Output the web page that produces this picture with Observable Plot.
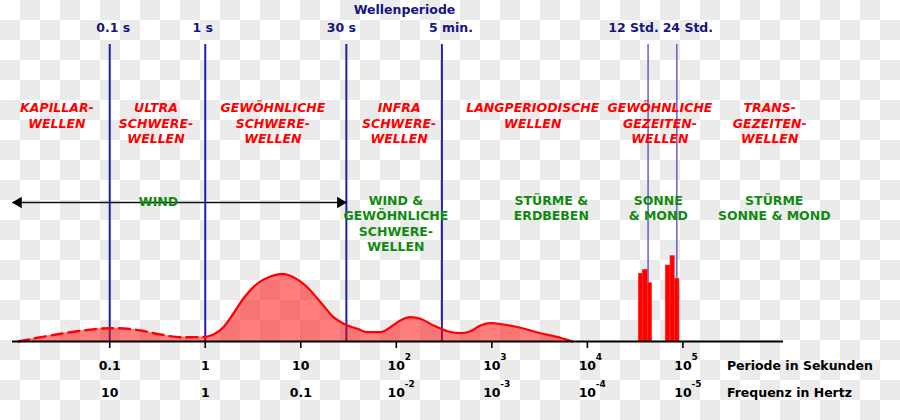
<!DOCTYPE html>
<html>
<head>
<meta charset="utf-8">
<script src="https://cdn.jsdelivr.net/npm/d3@7"></script>
<script src="https://cdn.jsdelivr.net/npm/@observablehq/plot@0.6"></script>
<style>
  html, body { margin: 0; padding: 0; }
  body {
    width: 900px; height: 420px; overflow: hidden;
    background-color: #fff;
    background-image: conic-gradient(#ebebeb 25%, #fff 0 50%, #ebebeb 0 75%, #fff 0);
    background-size: 40px 40px;
  }
</style>
</head>
<body>
<div id="chart"></div>
<script>
// ---- data ----
const tickPeriods = [0.1, 1, 10, 100, 1000, 1e4, 1e5];
const periodBase = ["0.1", "1", "10", "10", "10", "10", "10"];
const periodExp = ["", "", "", "2", "3", "4", "5"];
const freqBase = ["10", "1", "0.1", "10", "10", "10", "10"];
const freqExp = ["", "", "", "-2", "-3", "-4", "-5"];

const markerPeriods = [0.1, 1, 30, 300, 43200, 86400];
const markerLabels = ["0.1 s", "1 s", "30 s", "5 min.", "12 Std.", "24 Std."];

const waveNames = ["KAPILLAR-\nWELLEN", "ULTRA\nSCHWERE-\nWELLEN", "GEWÖHNLICHE\nSCHWERE-\nWELLEN",
  "INFRA\nSCHWERE-\nWELLEN", "LANGPERIODISCHE\nWELLEN", "GEWÖHNLICHE\nGEZEITEN-\nWELLEN",
  "TRANS-\nGEZEITEN-\nWELLEN"];
const waveAt = [0.028, 0.305, 5.1, 107, 2680, 57500, 811000];

const forceNames = ["WIND", "WIND &\nGEWÖHNLICHE\nSCHWERE-\nWELLEN", "STÜRME &\nERDBEBEN",
  "SONNE\n& MOND", "STÜRME\nSONNE & MOND"];
const forceAt = [0.324, 99, 4190, 55200, 904000];

const windFrom = 0.0096, windTo = 30;

const dashPeriod = [0.011, 0.024, 0.053, 0.1, 0.12, 0.21, 0.34, 0.55, 1];
const dashEnergy = [0, 6, 11, 13.3, 13.3, 11, 7, 4.3, 4.5];

const solidPeriod = [1, 1.22, 1.55, 1.97, 2.51, 3.52, 4.82, 6.43, 8.38, 11.7, 16.1, 22, 28, 39.2,
  49.9, 68.2, 86.8, 110, 141, 179, 245, 343, 469, 597, 760, 968, 1324, 1995, 3230, 5230, 6980];
const solidEnergy = [4.5, 7, 14.3, 28, 43, 58, 65, 67.7, 64.3, 54.3, 39.3, 24.3, 17.7, 12.7,
  9.3, 9.3, 14.3, 21, 24.3, 22.7, 16, 10.3, 8.3, 10.3, 16, 18.3, 17, 13.7, 8.3, 3.7, 0];

const tideFrom = [34500, 38000, 42900, 66100, 74100, 82200];
const tideTo = [38000, 42900, 47700, 74100, 82200, 92000];
const tideEnergy = [67.7, 71.7, 58.3, 76, 85.3, 62.7];

// ---- tables ----
const dashData = dashPeriod.map((p, i) => ({p, e: dashEnergy[i]}));
const solidData = solidPeriod.map((p, i) => ({p, e: solidEnergy[i]}));
const tideData = tideFrom.map((a, i) => ({a, b: tideTo[i], e: tideEnergy[i]}));
const ticks = tickPeriods.map((p, i) => ({p, pb: periodBase[i], pe: periodExp[i], fb: freqBase[i], fe: freqExp[i]}));

// ---- styles ----
const RED = "#ff0000", GREEN = "#0f8a0f", NAVY = "#15157f", BLUE = "#1f1fb0";
const markerDx = [3.5, -2.5, -5, 9, -14.6, 11];
const LINE_TOP = 297;

const marks = [];

// vertical period lines
marks.push(Plot.ruleX(markerPeriods.slice(0, 4), {y1: 0, y2: LINE_TOP, stroke: BLUE, strokeWidth: 2}));
marks.push(Plot.ruleX(markerPeriods.slice(4), {y1: 0, y2: LINE_TOP, stroke: "#4a4ac8", strokeWidth: 1.3}));

// labels of period lines
markerPeriods.forEach((p, i) => {
  marks.push(Plot.text([markerLabels[i]], {x: [p], y: [313.5], text: d => d, dx: markerDx[i],
    fill: NAVY, fontWeight: "bold"}));
});
marks.push(Plot.text(["Wellenperiode"], {frameAnchor: "top", dx: 6.5, dy: 4.5, lineAnchor: "top",
  fill: NAVY, fontWeight: "bold"}));

// energy spectrum
marks.push(Plot.areaY(dashData, {x: "p", y: "e", fill: RED, fillOpacity: 0.5, curve: "monotone-x"}));
marks.push(Plot.areaY(solidData, {x: "p", y: "e", fill: RED, fillOpacity: 0.5, curve: "monotone-x"}));
marks.push(Plot.line(dashData, {x: "p", y: "e", stroke: RED, strokeWidth: 2.4, strokeDasharray: "11,6", curve: "monotone-x"}));
marks.push(Plot.line(solidData, {x: "p", y: "e", stroke: RED, strokeWidth: 2.2, curve: "monotone-x"}));

// tides
marks.push(Plot.rectY(tideData, {x1: "a", x2: "b", y1: 0, y2: "e", fill: RED, stroke: "#ff3030", strokeWidth: 0.6}));

// wind arrow
marks.push(Plot.link([0], {x1: windFrom, x2: windTo, y1: 139, y2: 139, stroke: "#111", strokeWidth: 1.5}));
marks.push(Plot.dot([windFrom], {x: d => d, y: 139, symbol: "triangle", r: 4.2, rotate: -90, dx: 6, fill: "#000"}));
marks.push(Plot.dot([windTo], {x: d => d, y: 139, symbol: "triangle", r: 4.2, rotate: 90, dx: -6, fill: "#000"}));

// region labels
marks.push(Plot.text(waveNames, {x: (d, i) => waveAt[i], y: 240.5, text: d => d, lineAnchor: "top",
  lineHeight: 1.25, fill: RED, fontWeight: "bold", fontStyle: "italic"}));
marks.push(Plot.text(forceNames, {x: (d, i) => forceAt[i], y: (d, i) => i === 0 ? 146.5 : 148, text: d => d,
  lineAnchor: "top", lineHeight: 1.25, fill: GREEN, fontWeight: "bold"}));

// axis
marks.push(Plot.ruleY([0], {stroke: "#000", strokeWidth: 2}));
marks.push(Plot.ruleX(tickPeriods, {y1: 0, y2: -7, stroke: "#000", strokeWidth: 1.6}));
marks.push(Plot.text(ticks, {x: "p", y: -24.5, text: "pb", fill: "#000", fontWeight: "bold"}));
marks.push(Plot.text(ticks, {x: "p", y: -16, text: "pe", dx: 8.5, textAnchor: "start", fontSize: 9, fill: "#000", fontWeight: "bold"}));
marks.push(Plot.text(ticks, {x: "p", y: -51.5, text: "fb", fill: "#000", fontWeight: "bold"}));
marks.push(Plot.text(ticks, {x: "p", y: -43, text: "fe", dx: 8.5, textAnchor: "start", fontSize: 9, fill: "#000", fontWeight: "bold"}));
marks.push(Plot.text(["Periode in Sekunden"], {x: [1e5], y: [-24.5], text: d => d, dx: 44, textAnchor: "start", fill: "#000", fontWeight: "bold"}));
marks.push(Plot.text(["Frequenz in Hertz"], {x: [1e5], y: [-51.5], text: d => d, dx: 44, textAnchor: "start", fill: "#000", fontWeight: "bold"}));

const chart = Plot.plot({
  width: 900,
  height: 420,
  marginLeft: 12,
  marginRight: 117,
  marginTop: 0,
  marginBottom: 0,
  style: {background: "transparent", fontFamily: "DejaVu Sans", fontSize: "12.5px", overflow: "visible"},
  x: {type: "log", domain: [0.0096, 1.13e6], range: [12, 783], axis: null},
  y: {domain: [0, 100], range: [341, 241], axis: null},
  marks
});
document.getElementById("chart").appendChild(chart);
</script>
</body>
</html>
